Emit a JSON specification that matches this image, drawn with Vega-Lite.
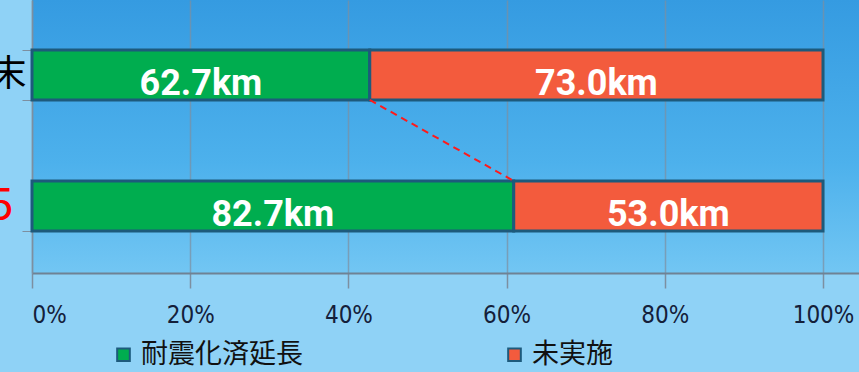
{
  "$schema": "https://vega.github.io/schema/vega-lite/v6.json",
  "autosize": {"type": "none"},
  "padding": {"left": 32, "top": 0, "right": 0, "bottom": 99},
  "width": 827,
  "height": 273,
  "background": "#8fd2f6",
  "config": {
    "view": {"stroke": null, "fill": {"gradient": "linear", "x1": 0, "y1": 0, "x2": 0, "y2": 1, "stops": [{"offset": 0, "color": "#359be1"}, {"offset": 0.6, "color": "#4db1ec"}, {"offset": 1, "color": "#72c6f3"}]}}
  },
  "data": {"values": [
    {"year": "H27年度末", "cat": "耐震化済延長", "pct": 42.7, "label": "62.7km"},
    {"year": "H27年度末", "cat": "未実施", "pct": 57.3, "label": "73.0km"},
    {"year": "R5", "cat": "耐震化済延長", "pct": 60.9, "label": "82.7km"},
    {"year": "R5", "cat": "未実施", "pct": 39.1, "label": "53.0km"}
  ]},
  "encoding": {
    "y": {
      "field": "year", "type": "nominal", "sort": ["H27年度末", "R5"],
      "scale": {"paddingInner": 0.618, "paddingOuter": 0.351, "align": 0.543},
      "axis": {
        "title": null, "labelFont": "Noto Sans CJK JP",
        "labelFontSize": {"condition": {"test": "datum.value == 'R5'", "value": 44}, "value": 36},
        "labelColor": {"condition": {"test": "datum.value == 'R5'", "value": "#ff0000"}, "value": "#000000"},
        "labelPadding": {"condition": {"test": "datum.value == 'R5'", "value": 9}, "value": -4},
        "tickBand": "extent", "tickSize": 10, "tickColor": "#7d8fa0",
        "domainColor": "#7d8fa0", "domainWidth": 1.5, "grid": false
      }
    }
  },
  "layer": [
    {
      "mark": {"type": "bar", "stroke": "#1d5a7c", "strokeWidth": 3},
      "encoding": {
        "x": {
          "field": "pct", "type": "quantitative", "stack": "zero",
          "scale": {"domain": [0, 104.55], "nice": false},
          "axis": {
            "title": null, "values": [0, 20, 40, 60, 80, 100],
            "labelExpr": "datum.value + '%'",
            "labelFont": "DejaVu Sans Condensed", "labelFontSize": 24, "labelColor": "#14203a",
            "labelPadding": 15, "tickSize": 15, "tickColor": "#7d8fa0", "tickWidth": 1.5,
            "domainColor": "#6f8294", "domainWidth": 2,
            "grid": true, "gridColor": "#7d8fa0", "gridOpacity": 0.7, "gridWidth": 1.5
          }
        },
        "color": {
          "field": "cat", "type": "nominal",
          "scale": {"domain": ["耐震化済延長", "未実施"], "range": ["#00ad4f", "#f35b3d"]},
          "legend": {
            "title": null, "orient": "none", "legendX": 78, "legendY": 341,
            "direction": "horizontal", "symbolType": "square", "symbolSize": 160,
            "symbolStrokeColor": "#1d5a7c", "symbolStrokeWidth": 2,
            "labelFont": "Noto Sans CJK JP", "labelFontSize": 27, "labelColor": "#111111",
            "labelOffset": 4, "columnPadding": 198, "labelLimit": 400
          }
        },
        "order": {"field": "cat", "sort": "descending"}
      }
    },
    {
      "transform": [
        {"stack": "pct", "groupby": ["year"], "sort": [{"field": "cat", "order": "descending"}], "as": ["s0", "s1"]},
        {"calculate": "(datum.s0 + datum.s1) / 2", "as": "mid"}
      ],
      "mark": {"type": "text", "font": "Roboto", "fontWeight": "bold", "fontSize": 36, "color": "#ffffff", "baseline": "middle", "dy": 9},
      "encoding": {
        "x": {"field": "mid", "type": "quantitative"},
        "text": {"field": "label"}
      }
    },
    {
      "data": {"values": [{"from": "H27年度末", "to": "R5", "a": 42.7, "b": 60.9}]},
      "mark": {"type": "rule", "color": "#ff1a1a", "strokeWidth": 2, "strokeDash": [7, 5], "yOffset": 25, "y2Offset": -25},
      "encoding": {
        "x": {"field": "a", "type": "quantitative"},
        "x2": {"field": "b"},
        "y": {"field": "from", "type": "nominal"},
        "y2": {"field": "to"}
      }
    }
  ]
}
